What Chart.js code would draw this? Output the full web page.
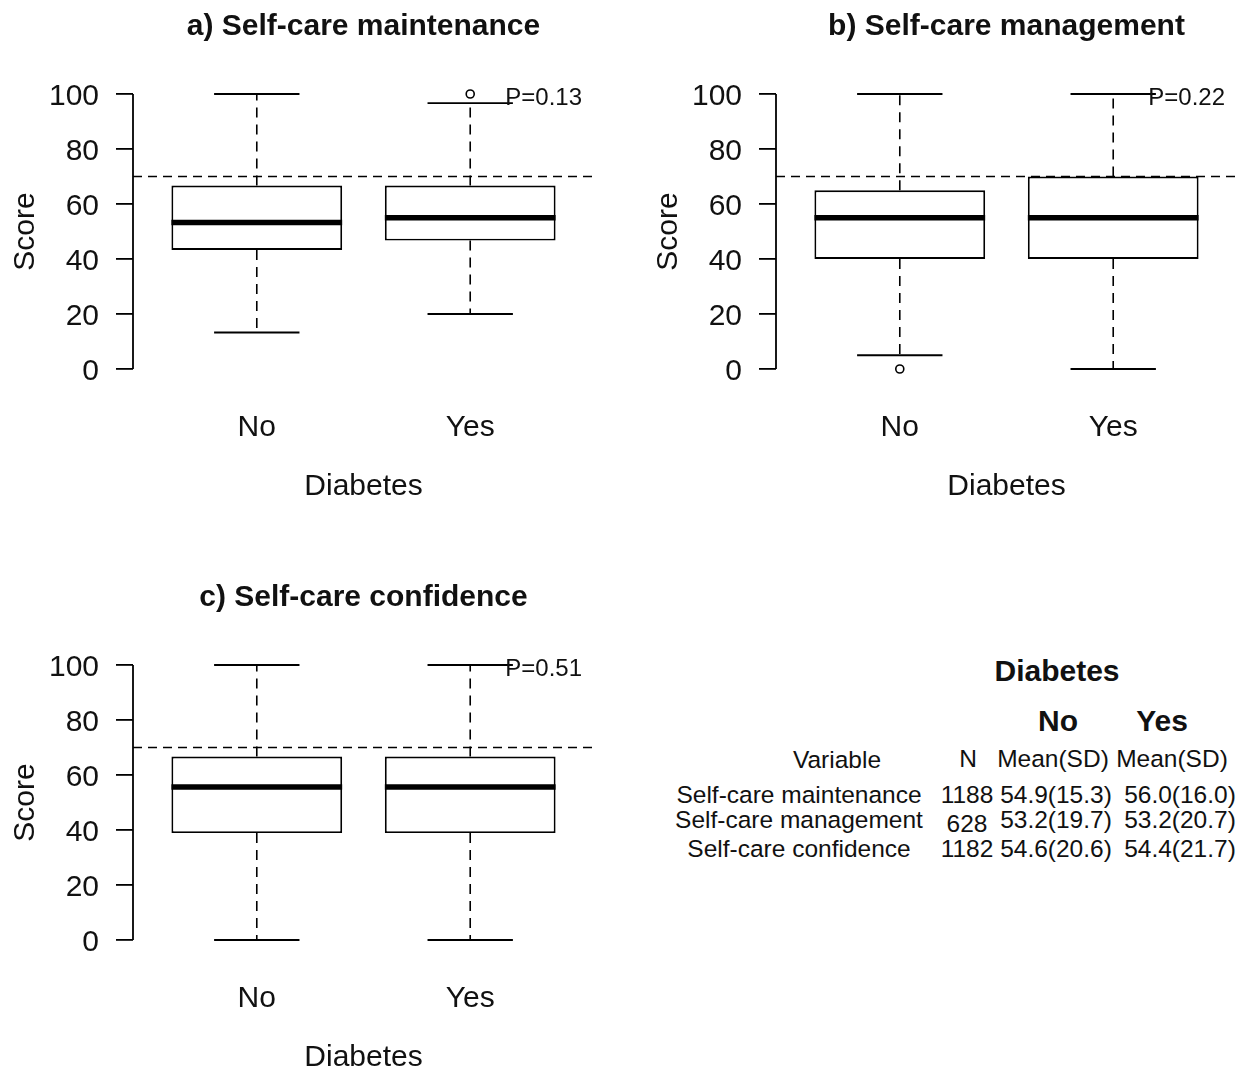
<!DOCTYPE html>
<html>
<head>
<meta charset="utf-8">
<script src="https://cdn.jsdelivr.net/npm/chart.js@4.4.0/dist/chart.umd.min.js"></script>
<style>
  html, body { margin: 0; padding: 0; background: #fff; overflow: hidden; width: 1254px; height: 1072px; }
  .panel { position: absolute; }
  .cell { position: absolute; font-family: "Liberation Sans", Arial, sans-serif; color: #111;
          white-space: nowrap; line-height: 1; transform: translate(-50%, -50%); }
  .hd { font-weight: bold; font-size: 30px; }
  .tx { font-size: 24.5px; }
</style>
</head>
<body>
<div class="panel" style="left:0;top:0"><canvas id="chartA" width="627" height="536"></canvas></div>
<div class="panel" style="left:643px;top:0"><canvas id="chartB" width="627" height="536"></canvas></div>
<div class="panel" style="left:0;top:571px"><canvas id="chartC" width="627" height="536"></canvas></div>
<div id="table"></div>

<script>
// shared
const groups = ["No", "Yes"];
const yTicks = [0, 20, 40, 60, 80, 100];
const cutoff = 70;
const FONT = '"Liberation Sans", Arial, sans-serif';

// a) Self-care maintenance
const maintMin = [13.3, 20];
const maintQ1 = [43.3, 46.7];
const maintMed = [53.3, 55];
const maintQ3 = [66.7, 66.7];
const maintMax = [100, 96.7];
const maintOut = [[], [100]];

// b) Self-care management
const mgmtMin = [5, 0];
const mgmtQ1 = [40, 40];
const mgmtMed = [55, 55];
const mgmtQ3 = [65, 70];
const mgmtMax = [100, 100];
const mgmtOut = [[0], []];

// c) Self-care confidence
const confMin = [0, 0];
const confQ1 = [38.9, 38.9];
const confMed = [55.6, 55.6];
const confQ3 = [66.7, 66.7];
const confMax = [100, 100];
const confOut = [[], []];

// summary table
const tableVars = ["Self-care maintenance", "Self-care management", "Self-care confidence"];
const tableN = ["1188", "628", "1182"];
const tableNo = ["54.9(15.3)", "53.2(19.7)", "54.6(20.6)"];
const tableYes = ["56.0(16.0)", "53.2(20.7)", "54.4(21.7)"];

// whiskers, medians, y axis line, cutoff line and p-value
const boxPlugin = {
  id: 'boxstats',
  afterDatasetsDraw(chart, args, opts) {
    const { ctx, chartArea: area, scales: { x, y } } = chart;
    const bars = chart.getDatasetMeta(0).data;
    ctx.save();
    ctx.strokeStyle = '#000';

    // axis only spans the tick range, like base R
    ctx.lineWidth = 1.8;
    ctx.beginPath();
    ctx.moveTo(area.left, y.getPixelForValue(yTicks[0]));
    ctx.lineTo(area.left, y.getPixelForValue(yTicks[yTicks.length - 1]));
    ctx.stroke();

    opts.med.forEach((m, i) => {
      const bar = bars[i];
      const cx = x.getPixelForValue(i + 1);
      const half = bar.width / 2;
      const cap = half / 2;

      ctx.lineWidth = 1.6;
      ctx.setLineDash([10, 7]);
      ctx.beginPath();
      ctx.moveTo(cx, y.getPixelForValue(opts.q3[i]));
      ctx.lineTo(cx, y.getPixelForValue(opts.max[i]));
      ctx.moveTo(cx, y.getPixelForValue(opts.q1[i]));
      ctx.lineTo(cx, y.getPixelForValue(opts.min[i]));
      ctx.stroke();

      ctx.setLineDash([]);
      ctx.lineWidth = 1.9;
      ctx.beginPath();
      ctx.moveTo(cx - cap, y.getPixelForValue(opts.max[i]));
      ctx.lineTo(cx + cap, y.getPixelForValue(opts.max[i]));
      ctx.moveTo(cx - cap, y.getPixelForValue(opts.min[i]));
      ctx.lineTo(cx + cap, y.getPixelForValue(opts.min[i]));
      ctx.stroke();

      ctx.lineWidth = 5.5;
      ctx.beginPath();
      ctx.moveTo(cx - half, y.getPixelForValue(m));
      ctx.lineTo(cx + half, y.getPixelForValue(m));
      ctx.stroke();
    });

    // cutoff line
    ctx.lineWidth = 1.6;
    ctx.setLineDash([9, 6]);
    ctx.beginPath();
    ctx.moveTo(area.left, y.getPixelForValue(cutoff));
    ctx.lineTo(area.right, y.getPixelForValue(cutoff));
    ctx.stroke();
    ctx.setLineDash([]);

    // p-value, top right
    ctx.fillStyle = '#111';
    ctx.font = '24px ' + FONT;
    ctx.textAlign = 'right';
    ctx.textBaseline = 'middle';
    ctx.fillText(opts.p, area.right - 12, area.top + 15);
    ctx.restore();
  }
};

function makeBoxplot(id, title, mins, q1s, meds, q3s, maxs, outs, pText) {
  const tickFont = { family: FONT, size: 30 };
  const boxes = groups.map((g, i) => ({ x: i + 1, y: [q1s[i], q3s[i]] }));
  const points = [];
  outs.forEach((list, i) => list.forEach(v => points.push({ x: i + 1, y: v })));

  new Chart(document.getElementById(id).getContext('2d'), {
    type: 'bar',
    data: {
      datasets: [
        {
          type: 'bar',
          data: boxes,
          backgroundColor: '#fff',
          borderColor: '#000',
          borderWidth: 1.9,
          borderSkipped: false,
          categoryPercentage: 1,
          barPercentage: 0.8,
          order: 2
        },
        {
          type: 'scatter',
          data: points,
          pointRadius: 4,
          pointBackgroundColor: '#fff',
          pointBorderColor: '#000',
          pointBorderWidth: 1.6,
          order: 1
        }
      ]
    },
    options: {
      responsive: false,
      animation: false,
      events: [],
      layout: { padding: { left: 0, right: 33, top: 0, bottom: 0 } },
      plugins: {
        legend: { display: false },
        tooltip: { enabled: false },
        title: {
          display: true,
          text: title,
          fullSize: false,
          color: '#111',
          font: { family: FONT, size: 30, weight: 'bold' },
          padding: { top: 9, bottom: 38 }
        },
        boxstats: { min: mins, q1: q1s, med: meds, q3: q3s, max: maxs, p: pText }
      },
      scales: {
        x: {
          type: 'linear',
          min: 0.42,
          max: 2.58,
          bounds: 'data',
          offset: false,
          grid: { display: false, drawTicks: false },
          border: { display: false },
          afterBuildTicks: s => { s.ticks = groups.map((g, i) => ({ value: i + 1 })); },
          ticks: {
            callback: v => groups[Math.round(v) - 1],
            font: tickFont,
            color: '#111',
            padding: 30,
            maxRotation: 0,
            autoSkip: false
          },
          title: { display: true, text: 'Diabetes', font: tickFont, color: '#111', padding: { top: 0, bottom: 31 } },
          afterFit: s => { s.height = 156; }
        },
        y: {
          min: -4,
          max: 104,
          afterBuildTicks: s => { s.ticks = yTicks.map(v => ({ value: v })); },
          grid: { drawOnChartArea: false, drawTicks: true, tickLength: 17, color: '#000', lineWidth: 1.8 },
          border: { display: false },
          ticks: { font: tickFont, color: '#111', padding: 17, labelOffset: 3 },
          title: { display: true, text: 'Score', font: tickFont, color: '#111', padding: { top: 8, bottom: 0 } },
          afterFit: s => { s.width = 133; }
        }
      }
    },
    plugins: [boxPlugin]
  });
}

makeBoxplot('chartA', 'a) Self-care maintenance', maintMin, maintQ1, maintMed, maintQ3, maintMax, maintOut, 'P=0.13');
makeBoxplot('chartB', 'b) Self-care management', mgmtMin, mgmtQ1, mgmtMed, mgmtQ3, mgmtMax, mgmtOut, 'P=0.22');
makeBoxplot('chartC', 'c) Self-care confidence', confMin, confQ1, confMed, confQ3, confMax, confOut, 'P=0.51');

// table, placed as text cells
const table = document.getElementById('table');
function cell(text, cls, cx, cy) {
  const d = document.createElement('div');
  d.className = 'cell ' + cls;
  d.textContent = text;
  d.style.left = cx + 'px';
  d.style.top = cy + 'px';
  table.appendChild(d);
}
const colX = [799, 967, 1056, 1180];
const rowY = [795, 820, 849];
cell('Diabetes', 'hd', 1057, 671);
cell('No', 'hd', 1058, 721);
cell('Yes', 'hd', 1162, 721);
cell('Variable', 'tx', 837, 760);
cell('N', 'tx', 968, 759);
cell('Mean(SD)', 'tx', 1053, 759);
cell('Mean(SD)', 'tx', 1172, 759);
tableVars.forEach((v, i) => {
  cell(v, 'tx', colX[0], rowY[i]);
  cell(tableN[i], 'tx', colX[1], rowY[i] + (tableN[i].length < 4 ? 4 : 0));
  cell(tableNo[i], 'tx', colX[2], rowY[i]);
  cell(tableYes[i], 'tx', colX[3], rowY[i]);
});
</script>
</body>
</html>
